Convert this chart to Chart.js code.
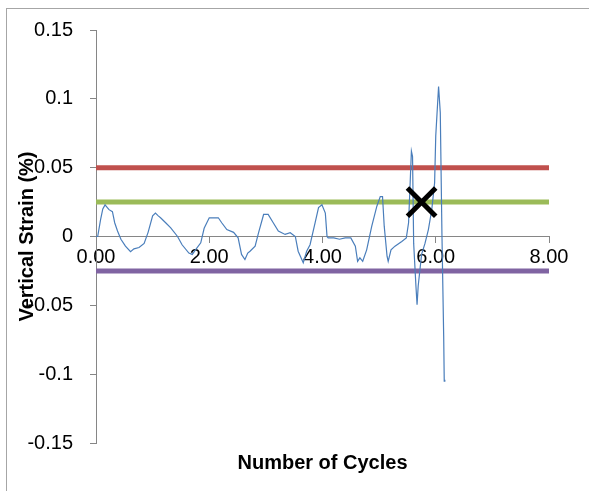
<!DOCTYPE html>
<html>
<head>
<meta charset="utf-8">
<script src="https://cdn.jsdelivr.net/npm/chart.js@4/dist/chart.umd.min.js"></script>
<style>
  html, body { margin: 0; padding: 0; background: #fff; overflow: hidden; }
  #wrap { position: relative; width: 589px; height: 491px; }
  #frame { position: absolute; left: 6px; top: 8px; width: 700px; height: 700px; border: 1px solid #a6a6a6; }
  canvas { position: absolute; left: 0; top: 0; }
</style>
</head>
<body>
<div id="wrap">
  <div id="frame"></div>
  <canvas id="strainChart" width="589" height="491"></canvas>
</div>
<script>
const cycles = [
  0.00, 0.03, 0.08, 0.12, 0.16, 0.20, 0.23, 0.29, 0.31, 0.33, 0.38, 0.44, 0.52, 0.61, 0.67, 0.76, 0.85, 0.92,
  1.00, 1.05, 1.10, 1.14, 1.23, 1.32, 1.44, 1.52, 1.64, 1.70, 1.76, 1.85, 1.91,
  2.00, 2.16, 2.22, 2.31, 2.43, 2.51, 2.57, 2.63, 2.68, 2.72, 2.81, 2.87, 2.96,
  3.04, 3.13, 3.22, 3.34, 3.43, 3.52, 3.57, 3.66, 3.72, 3.78, 3.87, 3.93, 3.99,
  4.05, 4.08, 4.10, 4.20, 4.30, 4.40, 4.50, 4.58, 4.62, 4.66, 4.71, 4.78, 4.87, 4.96,
  5.02, 5.06, 5.09, 5.14, 5.16, 5.21, 5.28, 5.40, 5.48, 5.52, 5.55, 5.57, 5.59, 5.61,
  5.65, 5.67, 5.69, 5.75, 5.81, 5.87, 5.93, 5.98, 6.00, 6.05, 6.08, 6.11, 6.14, 6.15, 6.16
];
const strain = [
  0.000, 0.000, 0.012, 0.020, 0.023, 0.021, 0.0195, 0.018, 0.014, 0.010, 0.004, -0.002, -0.007, -0.011, -0.009, -0.008, -0.005, 0.003,
  0.015, 0.017, 0.015, 0.0136, 0.010, 0.0063, 0.000, -0.006, -0.012, -0.013, -0.0095, -0.0046, 0.006,
  0.0136, 0.0136, 0.010, 0.005, 0.003, -0.001, -0.013, -0.0167, -0.012, -0.0107, -0.007, 0.0027, 0.016,
  0.016, 0.010, 0.004, 0.0015, 0.0027, 0.000, -0.0107, -0.019, -0.0107, -0.006, 0.010, 0.021, 0.023,
  0.017, 0.000, -0.001, -0.001, -0.002, -0.001, -0.001, -0.007, -0.018, -0.0155, -0.018, -0.0097, 0.0075, 0.022,
  0.029, 0.029, 0.0075, -0.0143, -0.018, -0.0097, -0.007, -0.0036, -0.001, 0.010, 0.041, 0.062, 0.058, -0.005,
  -0.036, -0.0496, -0.036, -0.013, -0.005, 0.005, 0.0196, 0.039, 0.073, 0.109, 0.090, 0.000, -0.072, -0.105, -0.104
];

// Reference limits drawn across the whole x range
const limitCycles = [0, 8];
const upperLimit = [0.05, 0.05];
const midLimit = [0.025, 0.025];
const lowerLimit = [-0.025, -0.025];

// Failure marker
const markerCycles = [5.75];
const markerStrain = [0.025];

const xTicks = [0, 2, 4, 6, 8];
const yTicks = [0.15, 0.1, 0.05, 0, -0.05, -0.1, -0.15];

const X_TITLE = "Number of Cycles";
const Y_TITLE = "Vertical Strain (%)";
const FONT = '"Liberation Sans", Arial, sans-serif';

function toPoints(xs, ys) {
  return xs.map((x, i) => ({ x: x, y: ys[i] }));
}

// Excel-style axis titles (y title overlaps the tick labels in the original)
const axisTitles = {
  id: "axisTitles",
  afterDraw(chart) {
    const { ctx, chartArea } = chart;
    ctx.save();
    ctx.fillStyle = "#000";
    ctx.font = "bold 20px " + FONT;
    ctx.textAlign = "center";
    ctx.textBaseline = "middle";
    ctx.fillText(X_TITLE, (chartArea.left + chartArea.right) / 2, 463);
    ctx.translate(27, (chartArea.top + chartArea.bottom) / 2);
    ctx.rotate(-Math.PI / 2);
    ctx.fillText(Y_TITLE, 0, 0);
    ctx.restore();
  }
};

const ctx = document.getElementById("strainChart").getContext("2d");
new Chart(ctx, {
  type: "scatter",
  data: {
    datasets: [
      {
        data: toPoints(markerCycles, markerStrain),
        pointStyle: "crossRot",
        pointRadius: 20,
        pointBorderWidth: 5,
        borderColor: "#000",
        backgroundColor: "#000",
        showLine: false,
        order: 0
      },
      {
        data: toPoints(cycles, strain),
        showLine: true,
        borderColor: "#4a7ebb",
        borderWidth: 1.2,
        pointRadius: 0,
        order: 1
      },
      {
        data: toPoints(limitCycles, upperLimit),
        showLine: true,
        borderColor: "#c0504d",
        borderWidth: 5,
        pointRadius: 0,
        order: 2
      },
      {
        data: toPoints(limitCycles, midLimit),
        showLine: true,
        borderColor: "#9bbb59",
        borderWidth: 5,
        pointRadius: 0,
        order: 2
      },
      {
        data: toPoints(limitCycles, lowerLimit),
        showLine: true,
        borderColor: "#8064a2",
        borderWidth: 5,
        pointRadius: 0,
        order: 2
      }
    ]
  },
  options: {
    responsive: false,
    animation: false,
    devicePixelRatio: 1,
    layout: { padding: { left: 0, top: 30, right: 40, bottom: 48 } },
    plugins: {
      legend: { display: false },
      tooltip: { enabled: false }
    },
    scales: {
      x: {
        type: "linear",
        position: { y: 0 },
        min: 0,
        max: 8,
        afterFit: (scale) => { scale.height = 0; },
        afterBuildTicks: (scale) => { scale.ticks = xTicks.map((v) => ({ value: v })); },
        grid: { drawOnChartArea: false, drawTicks: true, tickLength: 6, color: "#868686" },
        border: { display: true, color: "#868686", width: 1 },
        ticks: {
          padding: 3,
          color: "#000",
          font: { family: FONT, size: 20 },
          maxRotation: 0,
          callback: (v) => Number(v).toFixed(2)
        }
      },
      y: {
        type: "linear",
        min: -0.15,
        max: 0.15,
        afterFit: (scale) => { scale.width = 96; },
        afterBuildTicks: (scale) => { scale.ticks = yTicks.map((v) => ({ value: v })); },
        grid: { drawOnChartArea: false, drawTicks: true, tickLength: 6, color: "#868686" },
        border: { display: true, color: "#868686", width: 1 },
        ticks: {
          padding: 17,
          color: "#000",
          font: { family: FONT, size: 20 },
          callback: (v) => String(Number(Number(v).toFixed(2)))
        }
      }
    }
  },
  plugins: [axisTitles]
});
</script>
</body>
</html>
